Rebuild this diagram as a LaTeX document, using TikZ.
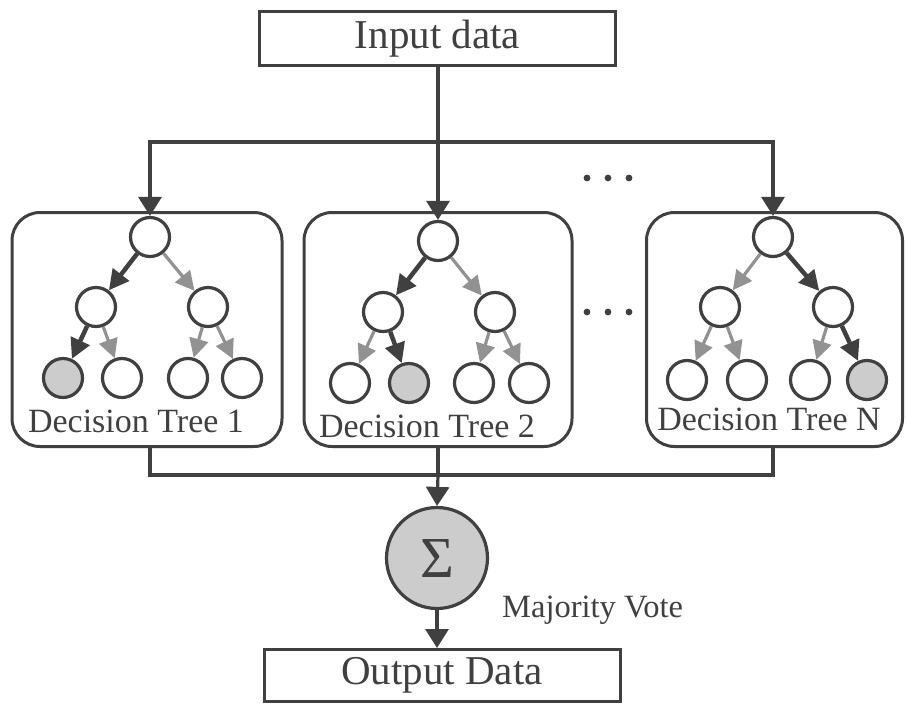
\documentclass[tikz,border=0pt]{standalone}
\usepackage{fontspec}
\setmainfont{Liberation Serif}
\usetikzlibrary{arrows.meta}
\definecolor{ink}{HTML}{404040}
\definecolor{pale}{HTML}{929292}
\definecolor{leaf}{HTML}{CCCCCC}
\begin{document}
\begin{tikzpicture}[x=1pt,y=-1pt,
  every node/.style={text=ink},
  databox/.style={draw=ink,line width=3pt,inner sep=0pt,font=\fontsize{41}{45}\selectfont},
  treebox/.style={draw=ink,line width=3pt,rounded corners=28pt,minimum height=234pt,inner sep=0pt},
  tnode/.style={circle,draw=ink,line width=3.2pt,fill=white,minimum size=39pt,inner sep=0pt},
  hit/.style={tnode,fill=leaf},
  treelabel/.style={anchor=base,inner sep=0pt,font=\fontsize{34}{36}\selectfont},
  taken/.style={draw=ink,line width=4.5pt,-{Triangle[length=20pt,width=20pt]}},
  skipped/.style={draw=pale,line width=3.2pt,-{Triangle[length=19pt,width=19pt]}},
  wire/.style={draw=ink,line width=3.2pt},
  feed/.style={wire,-{Triangle[length=19pt,width=23pt]}},
  dot/.style={fill=ink}
]
\useasboundingbox (0,0) rectangle (907,705);

% input / output boxes
\node[databox,minimum width=356pt,minimum height=54pt] (in) at (437.5,38.5) {Input data};
\node[databox,minimum width=356pt,minimum height=52pt] (out) at (442,675.5) {Output Data};

% tree frames
\node[treebox,minimum width=270pt] (b1) at (147,329.5) {};
\node[treebox,minimum width=268pt] (b2) at (438,329.5) {};
\node[treebox,minimum width=256pt] (bN) at (774.5,329.5) {};

% tree 1
\node[tnode] (t1r) at (150,237) {};
\node[tnode] (t1a) at (96,307) {};
\node[tnode] (t1b) at (208,307) {};
\node[hit]   (t1c) at (63,378) {};
\node[tnode] (t1d) at (122,378) {};
\node[tnode] (t1e) at (188,378) {};
\node[tnode] (t1f) at (242,378) {};
\draw[taken]   (t1r) -- (t1a);
\draw[skipped] (t1r) -- (t1b);
\draw[taken]   (t1a) -- (t1c);
\draw[skipped] (t1a) -- (t1d);
\draw[skipped] (t1b) -- (t1e);
\draw[skipped] (t1b) -- (t1f);
\node[treelabel] (l1) at (136,432) {Decision Tree 1};

% tree 2
\node[tnode] (t2r) at (438,241) {};
\node[tnode] (t2a) at (383,312) {};
\node[tnode] (t2b) at (495,312) {};
\node[tnode] (t2c) at (350,383) {};
\node[hit]   (t2d) at (409,383) {};
\node[tnode] (t2e) at (474,383) {};
\node[tnode] (t2f) at (529,383) {};
\draw[taken]   (t2r) -- (t2a);
\draw[skipped] (t2r) -- (t2b);
\draw[skipped] (t2a) -- (t2c);
\draw[taken]   (t2a) -- (t2d);
\draw[skipped] (t2b) -- (t2e);
\draw[skipped] (t2b) -- (t2f);
\node[treelabel] (l2) at (427,437) {Decision Tree 2};

% tree N
\node[tnode] (tNr) at (773,237) {};
\node[tnode] (tNa) at (720,307) {};
\node[tnode] (tNb) at (833,307) {};
\node[tnode] (tNc) at (687,380) {};
\node[tnode] (tNd) at (747,380) {};
\node[tnode] (tNe) at (810,380) {};
\node[hit]   (tNf) at (867,380) {};
\draw[skipped] (tNr) -- (tNa);
\draw[taken]   (tNr) -- (tNb);
\draw[skipped] (tNa) -- (tNc);
\draw[skipped] (tNa) -- (tNd);
\draw[skipped] (tNb) -- (tNe);
\draw[taken]   (tNb) -- (tNf);
\node[treelabel] (lN) at (769,430) {Decision Tree N};

% fan-out from the input
\coordinate (split) at (438,142);
\draw[wire,line width=4.8pt] (in.south -| split) -- (split);
\draw[feed] (split) -| (t1r.north);
\draw[feed] (split) -- (t2r.north);
\draw[feed] (split) -| (tNr.north);

% ellipses between trees
\foreach \x in {587,608,629} {
  \fill[dot] (\x,178) circle (3.4);
  \fill[dot] (\x,312) circle (3.4);
}

% vote
\node[circle,draw=ink,line width=3.2pt,fill=leaf,minimum size=101pt,inner sep=0pt,
      font=\fontsize{58}{60}\selectfont] (sig) at (437,558) {Σ};
\node[anchor=base west,inner sep=0pt,font=\fontsize{32.5}{36}\selectfont] (mv) at (502,617) {Majority Vote};

\coordinate (merge) at (438,475);
\draw[wire] (b1.south -| t1r) |- (merge);
\draw[wire] (bN.south -| tNr) |- (merge);
\draw[wire] (b2.south -| merge) -- (merge);
\draw[feed] (merge) -- (sig.north);
\draw[feed] (sig.south) -- (out.north -| sig.south);
\end{tikzpicture}
\end{document}
